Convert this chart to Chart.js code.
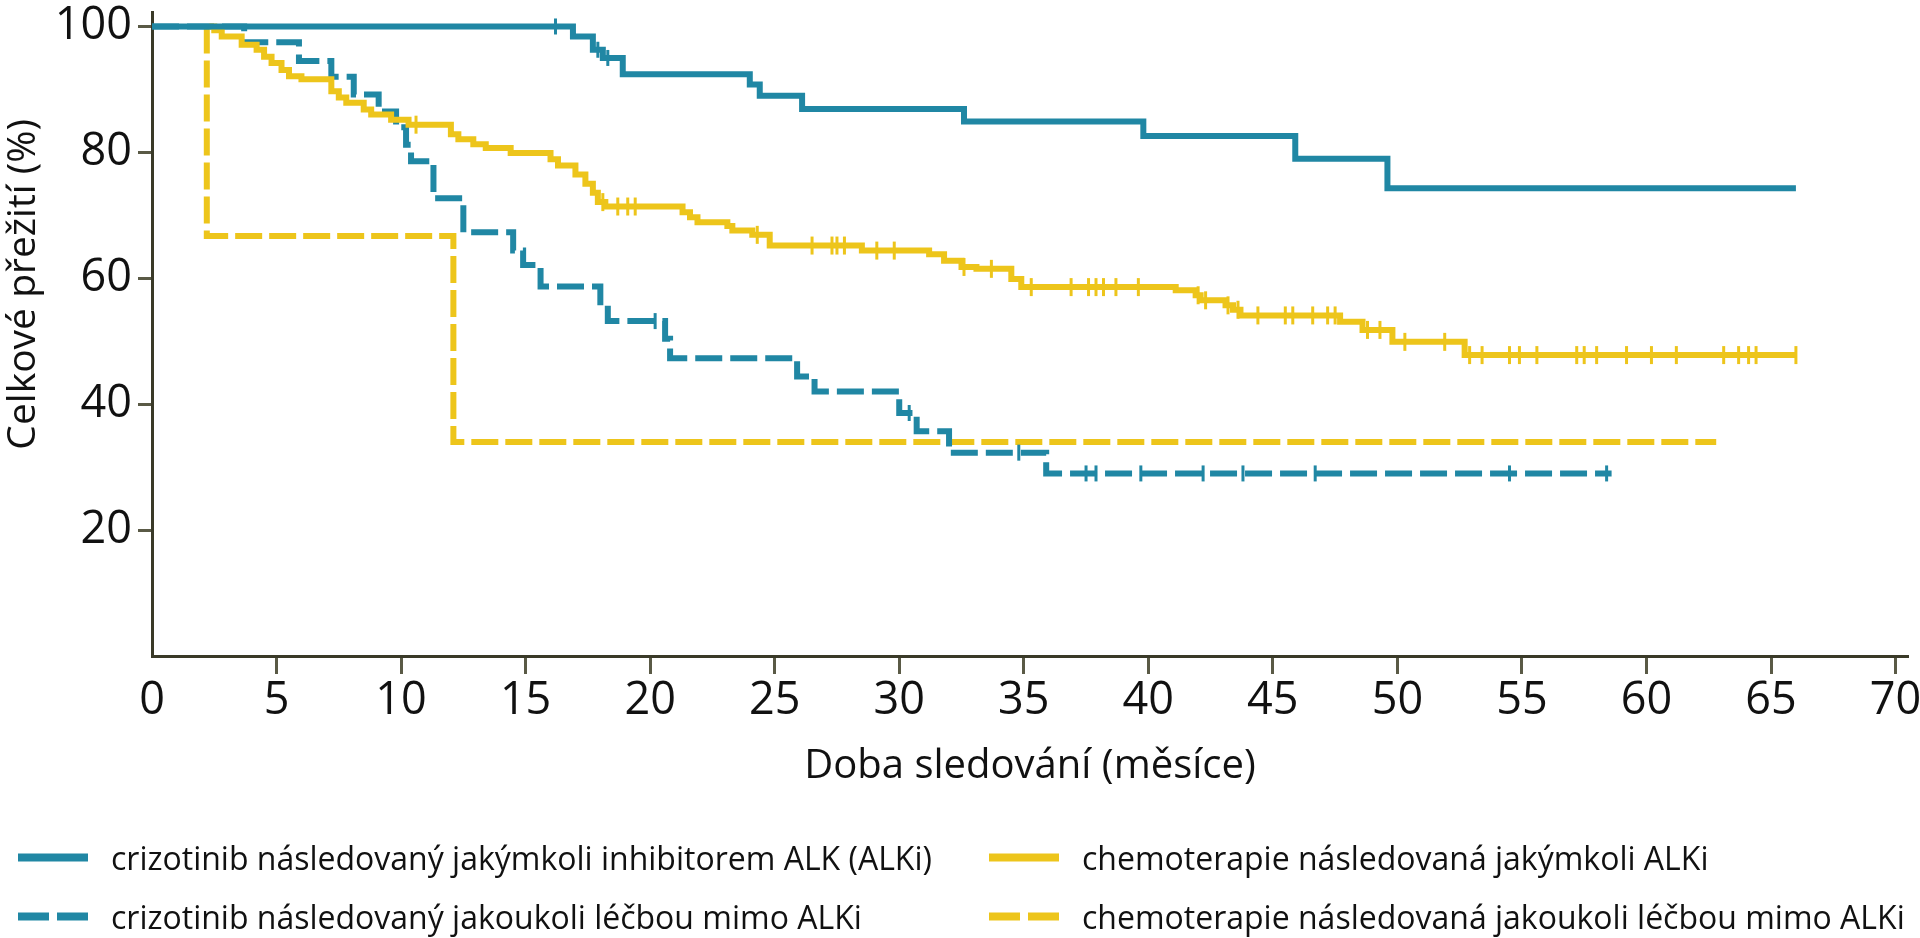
<!DOCTYPE html>
<html>
<head>
<meta charset="utf-8">
<script src="https://cdn.jsdelivr.net/npm/chart.js@4.4.1/dist/chart.umd.min.js"></script>
<style>
  body { margin: 0; background: #fff; }
  #wrap { position: relative; width: 1920px; height: 938px; }
  #legend { position: absolute; left: 0; top: 0; font-family: "Open Sans", sans-serif; font-size: 32px; color: #111; }
  .item { position: absolute; display: flex; align-items: center; white-space: nowrap; transform: translateY(-50%); }
  .sample { position: relative; width: 70px; height: 8px; margin-right: 23px; }
  .sample span { position: absolute; top: 0; height: 8px; }
</style>
</head>
<body>
<div id="wrap">
  <canvas id="km" width="1920" height="938"></canvas>
  <div id="legend"></div>
</div>
<script>
// osy
const xTicks = [0, 5, 10, 15, 20, 25, 30, 35, 40, 45, 50, 55, 60, 65, 70];
const yTicks = [20, 40, 60, 80, 100];
const xTitle = "Doba sledování (měsíce)";
const yTitle = "Celkové přežití (%)";

const seriesLabels = [
    "crizotinib následovaný jakýmkoli inhibitorem ALK (ALKi)",
    "crizotinib následovaný jakoukoli léčbou mimo ALKi",
    "chemoterapie následovaná jakýmkoli ALKi",
    "chemoterapie následovaná jakoukoli léčbou mimo ALKi"
];

// crizotinib -> ALKi
const crizAlkT = [0, 16.9, 17.7, 18.1, 18.9, 24.0, 24.4, 26.1, 32.6, 39.8, 45.9, 49.6, 66.0];
const crizAlkS = [100, 98.4, 96.3, 95.0, 92.4, 90.8, 89.0, 86.9, 84.9, 82.6, 79.0, 74.3, 74.3];
const crizAlkCens = [16.2, 17.9, 18.3];

// crizotinib -> mimo ALKi
const crizOthT = [0, 3.7, 5.9, 7.2, 8.1, 9.1, 9.8, 10.2, 10.4, 11.3, 12.5, 14.5, 14.9, 15.6, 18.0, 18.3, 20.6, 20.8, 25.9, 26.6, 30.0, 30.7, 32.0, 35.9, 58.6];
const crizOthS = [100, 97.5, 94.5, 92.0, 89.2, 86.5, 84.0, 81.2, 78.6, 72.7, 67.3, 64.4, 62.1, 58.7, 55.7, 53.2, 50.4, 47.3, 44.4, 42.0, 38.6, 35.7, 32.3, 29.0, 29.0];
const crizOthCens = [20.2, 30.4, 34.8, 37.5, 37.9, 39.7, 42.2, 43.8, 46.7, 54.5, 58.4];

// chemoterapie -> ALKi
const chemoAlkT = [2.3, 2.5, 2.8, 3.6, 4.2, 4.5, 4.8, 5.2, 5.5, 6.0, 7.2, 7.5, 7.8, 8.5, 8.8, 9.6, 10.3, 12.0, 12.3, 12.9, 13.4, 14.4, 16.0, 16.3, 17.0, 17.4, 17.7, 17.9, 18.2, 21.3, 21.6, 21.9, 23.1, 23.3, 24.1, 24.8, 28.5, 31.2, 31.8, 32.5, 33.1, 34.5, 34.9, 41.1, 41.9, 42.1, 43.1, 43.4, 43.7, 47.7, 48.6, 49.8, 52.7, 66.0];
const chemoAlkS = [100, 99.4, 98.4, 97.1, 96.3, 95.2, 94.2, 93.1, 92.1, 91.6, 89.7, 88.7, 87.9, 86.8, 86.0, 85.2, 84.4, 82.9, 82.1, 81.3, 80.7, 79.9, 78.9, 77.9, 76.5, 75.0, 73.6, 72.1, 71.4, 70.5, 69.7, 68.9, 68.3, 67.6, 66.9, 65.2, 64.4, 63.8, 62.8, 61.8, 61.5, 59.9, 58.6, 58.1, 57.3, 56.5, 55.7, 55.0, 54.1, 53.1, 51.8, 49.9, 47.8, 47.8];
const chemoAlkCens = [10.6, 18.1, 18.7, 19.1, 19.4, 24.3, 26.5, 27.3, 27.5, 27.8, 29.1, 29.8, 32.6, 33.7, 35.3, 36.9, 37.6, 37.9, 38.2, 38.7, 39.6, 42.0, 42.3, 43.2, 43.6, 44.4, 45.5, 45.8, 46.6, 47.2, 47.5, 48.8, 49.3, 50.3, 51.9, 52.9, 53.4, 54.5, 54.9, 55.6, 57.2, 57.5, 58.0, 59.2, 60.2, 61.2, 63.1, 63.7, 64.1, 64.4, 66.0];

// chemoterapie -> mimo ALKi
const chemoOthT = [2.2, 2.2, 12.1, 62.8];
const chemoOthS = [100, 66.7, 34.0, 34.0];

const blue = '#2087a4';
const yellow = '#edc51b';
const axisColor = '#3a3a28';
const tickColor = '#5a5a46';
const textColor = '#111';

function toPoints(t, s) {
    let pts = [];
    for (let i = 0; i < t.length; i++) {
        pts.push({x: t[i], y: s[i]});
    }
    return pts;
}

// cenzurovaná pozorování leží na křivce
function censPoints(t, s, cens) {
    let pts = [];
    for (let c of cens) {
        let v = s[0];
        for (let i = 0; i < t.length; i++) {
            if (t[i] <= c) v = s[i];
        }
        pts.push({x: c, y: v});
    }
    return pts;
}

function curve(label, t, s, color, dash) {
    return {
        label: label,
        data: toPoints(t, s),
        stepped: true,
        borderColor: color,
        backgroundColor: color,
        borderWidth: 6,
        borderDash: dash,
        borderCapStyle: 'butt',
        borderJoinStyle: 'miter',
        pointRadius: 0,
        fill: false
    };
}

function marks(t, s, cens, color, r) {
    return {
        label: 'cens',
        data: censPoints(t, s, cens),
        showLine: false,
        pointStyle: 'line',
        pointRotation: 90,
        pointRadius: r,
        pointBorderWidth: 3,
        pointBorderColor: color,
        pointBackgroundColor: color
    };
}

const yTitlePlugin = {
    id: 'yTitle',
    afterDraw(chart) {
        const ctx = chart.ctx;
        const y = chart.scales.y;
        const cy = (y.getPixelForValue(yTicks[0]) + y.getPixelForValue(yTicks[yTicks.length - 1])) / 2 + 6;
        ctx.save();
        ctx.translate(24, cy);
        ctx.rotate(-Math.PI / 2);
        ctx.font = '39px "Open Sans"';
        ctx.textAlign = 'center';
        ctx.textBaseline = 'middle';
        ctx.fillStyle = textColor;
        ctx.fillText(yTitle, 0, 0);
        ctx.restore();
    }
};

new Chart(document.getElementById('km'), {
    type: 'line',
    data: {
        datasets: [
            curve(seriesLabels[0], crizAlkT, crizAlkS, blue, []),
            marks(crizAlkT, crizAlkS, crizAlkCens, blue, 8),
            curve(seriesLabels[2], chemoAlkT, chemoAlkS, yellow, []),
            marks(chemoAlkT, chemoAlkS, chemoAlkCens, yellow, 9),
            curve(seriesLabels[1], crizOthT, crizOthS, blue, [27, 8]),
            marks(crizOthT, crizOthS, crizOthCens, blue, 8),
            curve(seriesLabels[3], chemoOthT, chemoOthS, yellow, [27, 7])
        ]
    },
    options: {
        responsive: false,
        animation: false,
        devicePixelRatio: 1,
        layout: { padding: { left: 0, top: 7, right: 10, bottom: 147 } },
        plugins: {
            legend: { display: false },
            tooltip: { enabled: false }
        },
        scales: {
            x: {
                type: 'linear',
                min: 0,
                max: 70.5,
                afterBuildTicks: s => { s.ticks = xTicks.map(v => ({value: v})); },
                afterFit: s => {
                    s.height = 135;
                    s.paddingLeft = 0;
                    s.paddingRight = 0;
                },
                ticks: {
                    font: { family: 'Open Sans', size: 45 },
                    color: textColor,
                    padding: 0,
                    maxRotation: 0,
                    autoSkip: false
                },
                grid: {
                    drawOnChartArea: false,
                    drawTicks: true,
                    tickLength: 18,
                    tickWidth: 3,
                    tickColor: c => c.tick && c.tick.value === 0 ? 'rgba(0,0,0,0)' : tickColor
                },
                border: { color: axisColor, width: 3 },
                title: {
                    display: true,
                    text: xTitle,
                    font: { family: 'Open Sans', size: 40 },
                    color: textColor,
                    padding: { top: 0, bottom: 0 }
                }
            },
            y: {
                min: 0,
                max: 102.3,
                afterBuildTicks: s => { s.ticks = yTicks.map(v => ({value: v})); },
                afterFit: s => {
                    s.width = 152;
                    s.paddingTop = 0;
                    s.paddingBottom = 0;
                },
                ticks: {
                    font: { family: 'Open Sans', size: 45 },
                    color: textColor,
                    padding: 6
                },
                grid: {
                    drawOnChartArea: false,
                    drawTicks: true,
                    tickLength: 14,
                    tickWidth: 3,
                    tickColor: tickColor
                },
                border: { color: axisColor, width: 3 }
            }
        }
    },
    plugins: [yTitlePlugin]
});

// legenda
const legendItems = [
    { label: seriesLabels[0], color: blue, dashed: false, left: 18, top: 857 },
    { label: seriesLabels[2], color: yellow, dashed: false, left: 989, top: 857 },
    { label: seriesLabels[1], color: blue, dashed: true, left: 18, top: 916 },
    { label: seriesLabels[3], color: yellow, dashed: true, left: 989, top: 916 }
];
const legend = document.getElementById('legend');
for (let it of legendItems) {
    const div = document.createElement('div');
    div.className = 'item';
    div.style.left = it.left + 'px';
    div.style.top = it.top + 'px';
    const sample = document.createElement('div');
    sample.className = 'sample';
    const parts = it.dashed ? [[0, 31], [39, 31]] : [[0, 70]];
    for (let p of parts) {
        const sp = document.createElement('span');
        sp.style.left = p[0] + 'px';
        sp.style.width = p[1] + 'px';
        sp.style.background = it.color;
        sample.appendChild(sp);
    }
    const txt = document.createElement('span');
    txt.textContent = it.label;
    div.appendChild(sample);
    div.appendChild(txt);
    legend.appendChild(div);
}
</script>
</body>
</html>
